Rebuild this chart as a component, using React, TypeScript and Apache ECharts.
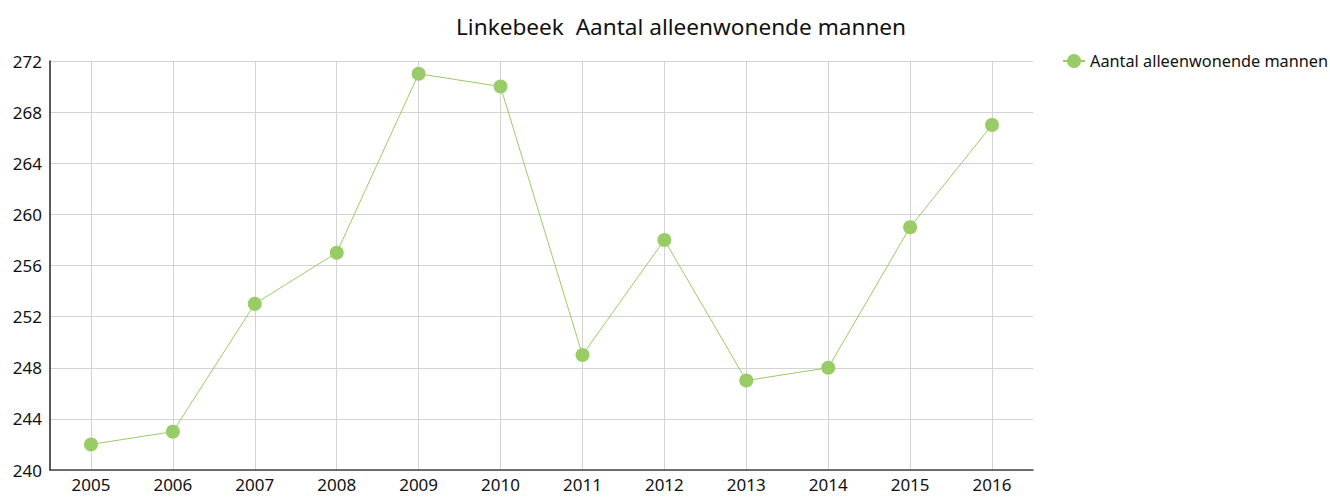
import React, { useEffect, useRef } from "react";
import * as echarts from "echarts";

const years = ["2005", "2006", "2007", "2008", "2009", "2010", "2011", "2012", "2013", "2014", "2015", "2016"];
const values = [242, 243, 253, 257, 271, 270, 249, 258, 247, 248, 259, 267];
const seriesName = "Aantal alleenwonende mannen";
const titleText = "Linkebeek  Aantal alleenwonende mannen";

const FONT = "'Noto Sans', 'Open Sans', sans-serif";
const GREEN = "#99cc66";

export default function App() {
  const ref = useRef<HTMLDivElement>(null);
  useEffect(() => {
    document.body.style.margin = "0";
    const chart = echarts.init(ref.current!, null, { renderer: "svg" });
    chart.setOption({
      animation: false,
      backgroundColor: "#ffffff",
      title: {
        text: titleText,
        left: 451,
        top: 10,
        textStyle: { fontFamily: FONT, fontSize: 22.6, fontWeight: "normal", color: "#111" },
      },
      legend: {
        left: 1062,
        top: 53,
        padding: 0,
        itemWidth: 22,
        itemHeight: 17.5,
        itemGap: 10,
        textStyle: { fontFamily: FONT, fontSize: 16.3, color: "#111" },
        data: [{ name: seriesName }],
      },
      grid: { left: 50, right: 297, top: 61, bottom: 29, containLabel: false },
      xAxis: {
        type: "category",
        data: years,
        boundaryGap: true,
        axisLine: { lineStyle: { color: "#444", width: 1.5 } },
        axisTick: { show: false, alignWithLabel: true },
        axisLabel: { fontFamily: FONT, fontSize: 17, color: "#111", margin: 6 },
        splitLine: { show: true, alignWithLabel: true, lineStyle: { color: "#d3d3d3", width: 1 } },
      },
      yAxis: {
        type: "value",
        min: 240,
        max: 272,
        interval: 4,
        axisLine: { show: true, lineStyle: { color: "#222", width: 1.5 } },
        axisTick: { show: false },
        axisLabel: { fontFamily: FONT, fontSize: 17, color: "#111", margin: 8 },
        splitLine: { show: true, lineStyle: { color: "#d3d3d3", width: 1 } },
      },
      series: [
        {
          name: seriesName,
          type: "line",
          data: values,
          symbol: "circle",
          symbolSize: 14,
          itemStyle: { color: GREEN },
          lineStyle: { color: GREEN, width: 1 },
        },
      ],
    });
    return () => chart.dispose();
  }, []);
  return <div ref={ref} style={{ width: 1330, height: 499 }} />;
}
